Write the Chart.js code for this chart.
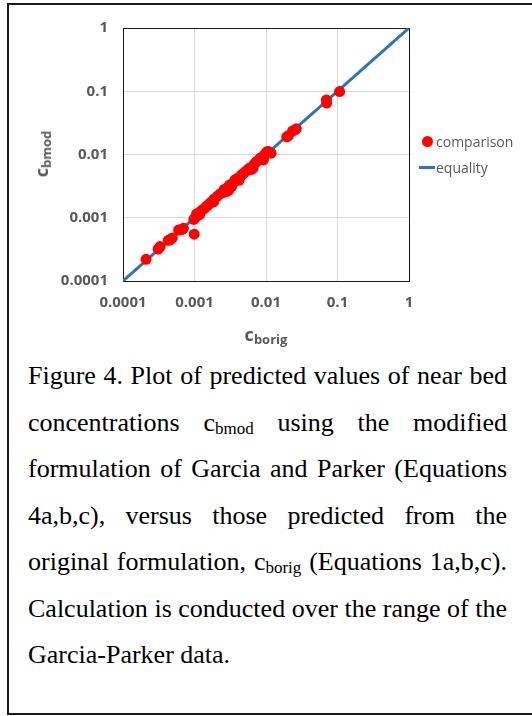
<!DOCTYPE html>
<html>
<head>
<meta charset="utf-8">
<script src="https://cdn.jsdelivr.net/npm/chart.js@4"></script>
<style>
  body { margin: 0; background: #fff; }
  #page { position: relative; width: 532px; height: 716px; overflow: hidden; }
  #frame {
    position: absolute; left: 7px; top: 3px; width: 560px; height: 708px;
    border: 2px solid #1a1a1a;
  }
  #chart-box { position: absolute; left: 0; top: 0; width: 532px; height: 350px; }
  .axis-title {
    position: absolute; font-family: "Open Sans", sans-serif; font-weight: bold;
    color: #595959; font-size: 18px; white-space: nowrap;
  }
  .axis-title sub { font-size: 13px; vertical-align: -3px; }
  #x-title { left: 266px; top: 322px; transform: translateX(-50%); }
  #y-title { left: 42px; top: 154px; transform: translate(-50%, -50%) rotate(-90deg); }
  #legend {
    position: absolute; left: 419px; top: 131px;
    font-family: "Open Sans", sans-serif; font-size: 14px; color: #595959;
  }
  .legend-item { display: flex; align-items: center; height: 20px; margin-bottom: 6px; }
  .swatch { width: 16px; height: 20px; position: relative; margin-right: 1px; }
  .dot { position: absolute; left: 2.5px; top: 4.5px; width: 11px; height: 11px; border-radius: 50%; background: #ff0000; }
  .line { position: absolute; left: 0; top: 8.5px; width: 16px; height: 3px; background: #2e75b6; }
  #caption {
    position: absolute; left: 28px; top: 353px; width: 479px;
    font-family: "Liberation Serif", "Times New Roman", serif; font-size: 26px;
    line-height: 46.5px; color: #000;
  }
  #caption div { text-align: justify; text-align-last: justify; white-space: nowrap; }
  #caption div.last { text-align-last: left; }
  #caption sub { font-size: 17px; vertical-align: -3px; line-height: 0; }
</style>
</head>
<body>
<div id="page">
  <div id="frame"></div>
  <div id="chart-box"><canvas id="chart"></canvas></div>
  <div class="axis-title" id="x-title">c<sub>borig</sub></div>
  <div class="axis-title" id="y-title">c<sub>bmod</sub></div>
  <div id="legend">
    <div class="legend-item"><div class="swatch"><div class="dot"></div></div>comparison</div>
    <div class="legend-item"><div class="swatch"><div class="line"></div></div>equality</div>
  </div>
  <div id="caption">
    <div>Figure 4. Plot of predicted values of near bed</div>
    <div>concentrations c<sub>bmod</sub> using the modified</div>
    <div>formulation of Garcia and Parker (Equations</div>
    <div>4a,b,c), versus those predicted from the</div>
    <div>original formulation, c<sub>borig</sub> (Equations 1a,b,c).</div>
    <div>Calculation is conducted over the range of the</div>
    <div class="last">Garcia-Parker data.</div>
  </div>
</div>

<script>
// c_borig (x) and c_bmod (y)
const origValues = [
  0.00021, 0.00031, 0.00033, 0.00043, 0.00046, 0.00049, 0.0006, 0.00066, 0.0007,
  0.00099, 0.00098, 0.00102, 0.00107, 0.00112, 0.00118, 0.00125, 0.00135, 0.00145,
  0.00155, 0.00165, 0.00175, 0.00185, 0.0019, 0.0021, 0.0023, 0.0025, 0.0026, 0.0028,
  0.0029, 0.0031, 0.003, 0.0033, 0.0035, 0.0037, 0.004, 0.0042, 0.0045, 0.0048,
  0.0052, 0.0056, 0.006, 0.0063, 0.0066, 0.0068, 0.0072, 0.0076, 0.0082, 0.0086,
  0.0092, 0.0095, 0.01, 0.0103, 0.0108, 0.0118, 0.0195, 0.0205, 0.0235, 0.0255,
  0.0265, 0.07, 0.0705, 0.107,
];
const modValues = [
  0.00022, 0.00032, 0.00035, 0.00044, 0.00045, 0.00048, 0.00064, 0.00065, 0.00068,
  0.00055, 0.00094, 0.001, 0.00115, 0.00118, 0.00112, 0.0013, 0.00138, 0.0015,
  0.00158, 0.0017, 0.0018, 0.00178, 0.002, 0.0022, 0.0024, 0.0025, 0.0028, 0.0026,
  0.003, 0.0033, 0.0027, 0.0031, 0.0036, 0.004, 0.0042, 0.0039, 0.0047, 0.005,
  0.0054, 0.0058, 0.0062, 0.0058, 0.0061, 0.007, 0.0075, 0.0079, 0.0086, 0.009,
  0.0082, 0.0098, 0.0105, 0.0111, 0.0112, 0.0105, 0.019, 0.0198, 0.0235, 0.0245,
  0.0255, 0.073, 0.065, 0.099,
];
// 1:1 line end points
const equalityValues = [0.0001, 1];

const tickValues = [0.0001, 0.001, 0.01, 0.1, 1];
const tickLabels = ["0.0001", "0.001", "0.01", "0.1", "1"];

const tickFont = { family: "Open Sans", size: 15, weight: "bold" };
const gridColor = (ctx) => (ctx.tick && ctx.tick.value === 1 ? "#1a1a1a" : "#d9d9d9");
const fixTicks = (scale) => {
  scale.ticks = tickValues.map((v) => ({ value: v }));
};
const tickLabel = (v) => {
  const i = tickValues.findIndex((t) => Math.abs(t - v) / t < 1e-6);
  return i >= 0 ? tickLabels[i] : "";
};

new Chart(document.getElementById("chart"), {
  type: "scatter",
  data: {
    datasets: [
      {
        label: "comparison",
        data: origValues.map((x, i) => ({ x, y: modValues[i] })),
        backgroundColor: "#ff0000",
        borderWidth: 0,
        pointRadius: 5.5,
        pointHoverRadius: 5.5,
      },
      {
        label: "equality",
        type: "line",
        data: equalityValues.map((v) => ({ x: v, y: v })),
        borderColor: "#2e75b6",
        borderWidth: 3,
        pointRadius: 0,
        fill: false,
      },
    ],
  },
  options: {
    responsive: true,
    maintainAspectRatio: false,
    animation: false,
    layout: { padding: { top: 28, right: 123, bottom: 29, left: 0 } },
    plugins: { legend: { display: false }, tooltip: { enabled: false } },
    scales: {
      x: {
        type: "logarithmic",
        min: 0.0001,
        max: 1,
        afterBuildTicks: fixTicks,
        afterFit: (s) => { s.height = 40; },
        ticks: { font: tickFont, color: "#595959", padding: 13, maxRotation: 0, autoSkip: false, callback: tickLabel },
        grid: { color: gridColor, drawTicks: false, lineWidth: 1 },
        border: { display: true, color: "#1a1a1a", width: 1 },
      },
      y: {
        type: "logarithmic",
        min: 0.0001,
        max: 1,
        afterBuildTicks: fixTicks,
        afterFit: (s) => { s.width = 123; },
        ticks: { font: tickFont, color: "#595959", padding: 15, autoSkip: false, callback: tickLabel },
        grid: { color: gridColor, drawTicks: false, lineWidth: 1 },
        border: { display: true, color: "#1a1a1a", width: 1 },
      },
    },
  },
});
</script>
</body>
</html>
